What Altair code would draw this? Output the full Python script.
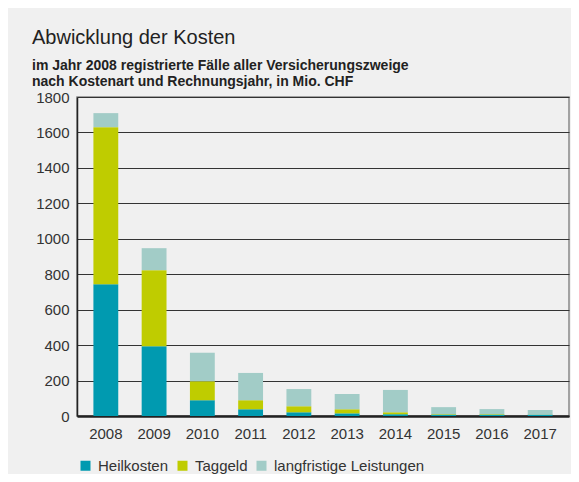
import altair as alt
import pandas as pd

years = ["2008", "2009", "2010", "2011", "2012", "2013", "2014", "2015", "2016", "2017"]
heilkosten = [744, 394, 89, 38, 21, 15, 10, 8, 8, 8]
taggeld = [886, 429, 107, 51, 34, 23, 11, 3, 3, 1]
langfristig = [79, 124, 161, 154, 97, 86, 126, 39, 28, 25]

categories = ["Heilkosten", "Taggeld", "langfristige Leistungen"]
colors = ["#009AB0", "#BFCC00", "#A2CCC7"]
y_ticks = [0, 200, 400, 600, 800, 1000, 1200, 1400, 1600, 1800]

rows = []
for i, y in enumerate(years):
    for k, (cat, vals) in enumerate(zip(categories, [heilkosten, taggeld, langfristig])):
        rows.append({"Jahr": y, "Kostenart": cat, "Wert": vals[i], "idx": k})
df = pd.DataFrame(rows)

FONT = "Liberation Sans"

bars = alt.Chart(df).mark_bar().encode(
    x=alt.X("Jahr:N", sort=years, title=None,
            scale=alt.Scale(paddingInner=0.485, paddingOuter=0.34),
            axis=alt.Axis(labelAngle=0, ticks=False, domain=True, domainColor="#222",
                          domainWidth=2.5, labelPadding=10, labelFontSize=15,
                          labelColor="#333", labelFont=FONT, grid=False)),
    y=alt.Y("Wert:Q", title=None, stack="zero",
            scale=alt.Scale(domain=[0, 1800], nice=False),
            axis=alt.Axis(values=y_ticks, format="d", ticks=False, domain=True,
                          domainColor="#222", domainWidth=1.5, labelPadding=8,
                          labelFontSize=15, labelColor="#333", labelFont=FONT,
                          grid=True, gridColor="#333", gridWidth=1, gridOpacity=1)),
    color=alt.Color("Kostenart:N", sort=categories,
                    scale=alt.Scale(domain=categories, range=colors),
                    legend=alt.Legend(title=None, orient="none", direction="horizontal",
                                      legendX=1, legendY=361, symbolType="square",
                                      symbolSize=100, symbolStrokeWidth=0,
                                      symbolOpacity=1, labelFontSize=15,
                                      labelFont=FONT, labelColor="#333",
                                      labelOffset=5, columnPadding=6)),
    order=alt.Order("idx:Q", sort="ascending"),
).properties(
    width=492,
    height=319,
    title=alt.TitleParams(
        "Abwicklung der Kosten",
        subtitle=["im Jahr 2008 registrierte Fälle aller Versicherungszweige",
                  "nach Kostenart und Rechnungsjahr, in Mio. CHF"],
        anchor="start", frame="group", dx=-45,
        font=FONT, fontSize=20, fontWeight="normal", color="#222",
        subtitleFont=FONT, subtitleFontSize=14, subtitleFontWeight="bold",
        subtitleColor="#222", subtitleLineHeight=16.5, subtitlePadding=11,
        offset=1,
    ),
    autosize=alt.AutoSizeParams(type="none"),
    padding={"left": 69, "top": 89, "right": 2, "bottom": 58},
    background="#f0f0f0",
).configure_view(
    stroke="#888", strokeWidth=1.5
)

chart = bars
chart.save("out.html", embed_options={"renderer": "svg", "actions": False})
